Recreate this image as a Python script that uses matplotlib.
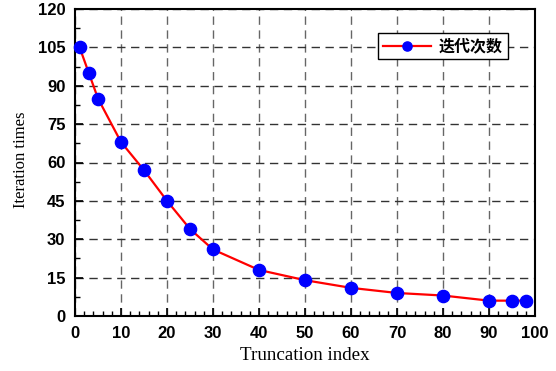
import matplotlib
matplotlib.use("Agg")
import matplotlib.pyplot as plt
from matplotlib.ticker import MultipleLocator

x_vals = [1, 3, 5, 10, 15, 20, 25, 30, 40, 50, 60, 70, 80, 90, 95, 98]
y_vals = [105, 95, 85, 68, 57, 45, 34, 26, 18, 14, 11, 9, 8, 6, 6, 6]
series_label = "迭代次数"
x_label = "Truncation index"
y_label = "Iteration times"

fig = plt.figure(figsize=(5.56, 3.71), dpi=100)
ax = fig.add_axes([75/556, 1-316/371, (535-75)/556, (316-9)/371])

ax.plot(x_vals, y_vals, color="red", lw=1.6, marker="o", markersize=8.8,
        markerfacecolor="blue", markeredgecolor="blue", label=series_label, zorder=3,
        clip_on=False)

ax.set_xlim(0, 100)
ax.set_ylim(0, 120)
ax.xaxis.set_major_locator(MultipleLocator(10))
ax.xaxis.set_minor_locator(MultipleLocator(2))
ax.yaxis.set_major_locator(MultipleLocator(15))
ax.yaxis.set_minor_locator(MultipleLocator(7.5))
ax.tick_params(which="both", direction="in", top=False, right=False)
ax.tick_params(which="major", length=6, width=1.2, pad=7)
ax.tick_params(which="minor", length=3.5, width=1.0)
for lbl in ax.get_xticklabels() + ax.get_yticklabels():
    lbl.set_fontfamily("Liberation Sans")
    lbl.set_fontweight("bold")
    lbl.set_fontsize(12)

ax.xaxis.grid(True, which="major", linestyle=(0, (6, 4)), color="#666666", lw=1.0)
ax.yaxis.grid(True, which="major", linestyle=(0, (6, 4)), color="#333333", lw=1.0)
ax.set_axisbelow(True)
for s in ax.spines.values():
    s.set_linewidth(1.5)
    s.set_color("black")

ax.set_xlabel(x_label, fontfamily="Liberation Serif", fontsize=13.7)
ax.set_ylabel(y_label, fontfamily="Liberation Serif", fontsize=12)
ax.xaxis.set_label_coords(0.5, -0.102)
ax.yaxis.set_label_coords(-0.101, 0.51)

leg = ax.legend(loc="upper right", bbox_to_anchor=(1-27/460, 1-24/307),
                prop={"family": ["Noto Sans CJK SC", "DejaVu Sans"], "weight": "bold", "size": 11.5},
                fancybox=False, framealpha=1, edgecolor="black", handlelength=3.0,
                borderpad=0.32, handletextpad=0.5, borderaxespad=0, markerscale=0.75)
leg.get_frame().set_linewidth(1.0)

fig.savefig("out.png", dpi=100)
